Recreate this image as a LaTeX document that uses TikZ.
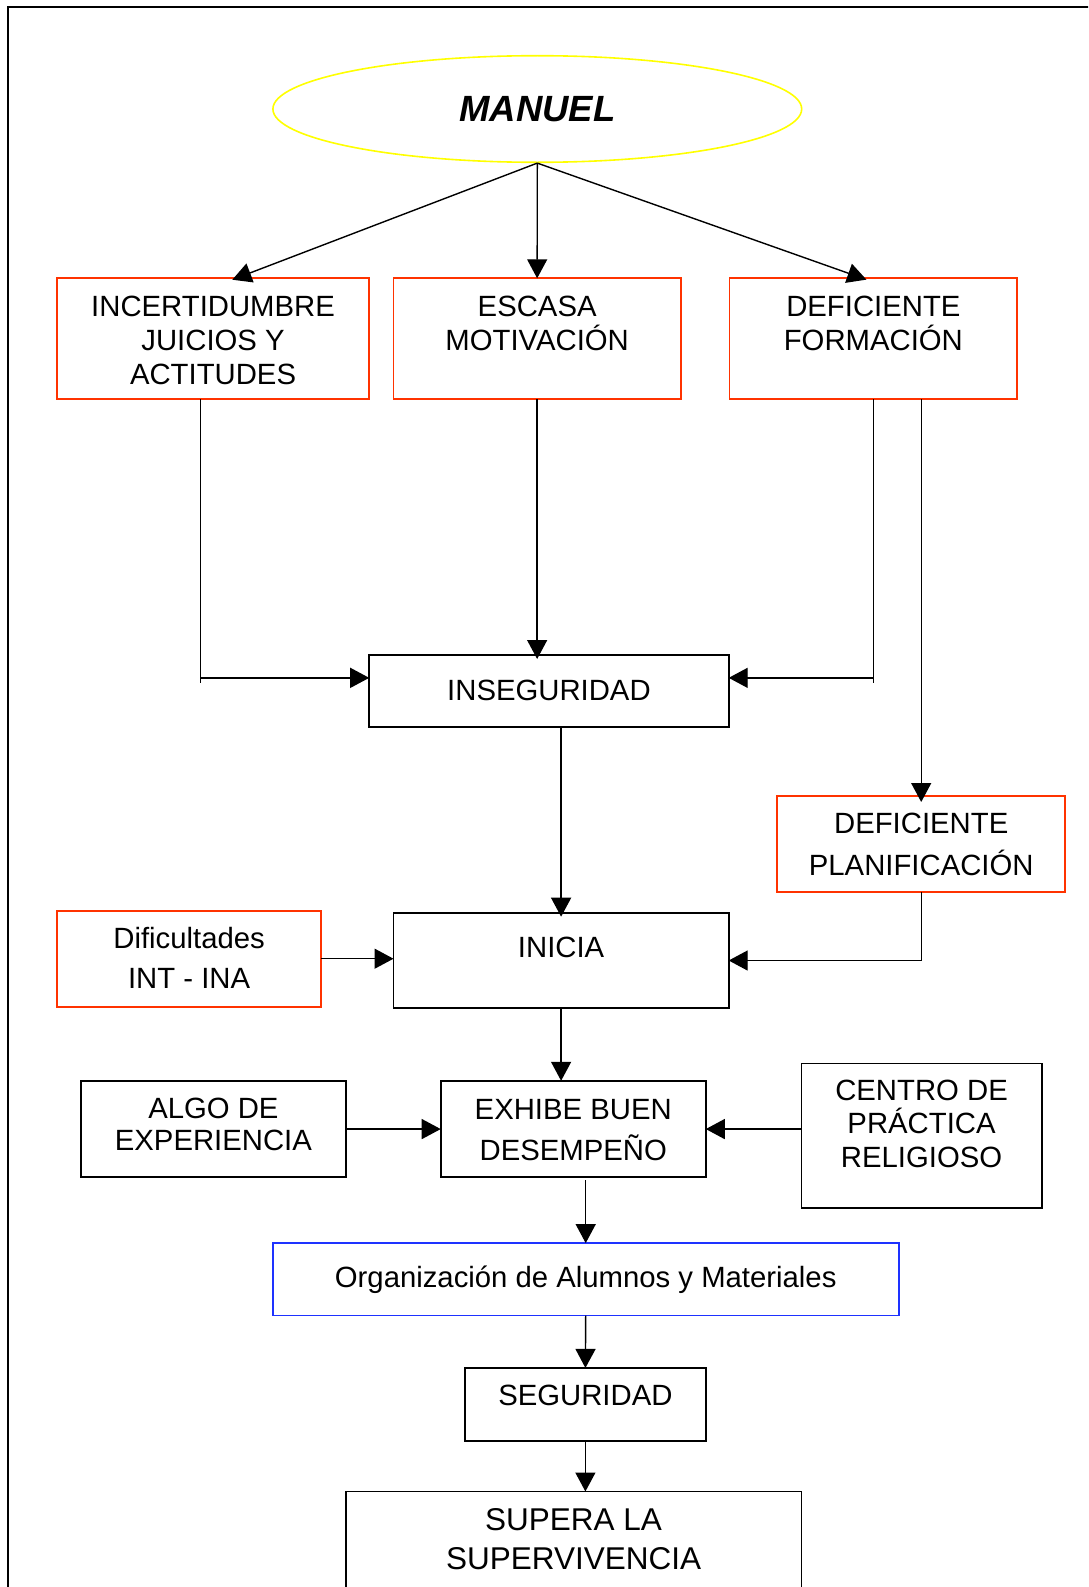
\documentclass[tikz,border=0pt]{standalone}
\usepackage{fontspec}
\setmainfont{Liberation Sans}
\usetikzlibrary{arrows.meta,shapes.geometric,calc}
\definecolor{bred}{RGB}{255,51,0}
\definecolor{bblue}{RGB}{30,50,255}
\definecolor{ylw}{RGB}{255,255,0}
% width, height, first baseline offset, line spacing, text
\newcommand\boxtxt[5]{\parbox[t][#2pt][t]{#1pt}{\centering\baselineskip=#4pt\relax\lineskiplimit=-100pt\relax\rule{0pt}{#3pt}#5\par}}
\tikzset{
  basebox/.style={inner sep=0pt, outer sep=0pt, anchor=north west, line width=1.8pt,
    font=\fontsize{29.3}{34}\selectfont},
  rbox/.style={basebox, draw=bred},
  kbox/.style={basebox, draw=black},
  bbox/.style={basebox, draw=bblue},
  ln/.style={line width=1.4pt},
  arr/.style={line width=1.4pt, -{Triangle[length=19pt,width=20pt]}},
  into/.style={shorten >=-4pt},
}
\begin{document}
\begin{tikzpicture}[x=1pt,y=-1pt]
\useasboundingbox (0,0) rectangle (1088,1587);
\clip (0,0) rectangle (1088,1587);
\fill[white] (0,0) rectangle (1088,1587);
% outer frame
\draw[line width=2.2pt] (8.3,7.3) rectangle (1110,1610);

% nodes
\node[ellipse, draw=ylw, line width=1.6pt, minimum width=528.8pt, minimum height=106.6pt,
  inner sep=0pt, font=\fontsize{36.5}{40}\selectfont\bfseries\itshape] (m) at (537.3,109) {MANUEL};

\node[rbox] (inc) at (56.9,278.3) {\boxtxt{312.3}{120.7}{37.7}{34}{INCERTIDUMBRE\\JUICIOS Y\\ACTITUDES}};
\node[rbox] (esc) at (393.5,278.3) {\boxtxt{287.3}{120.7}{37.7}{34}{ESCASA\\MOTIVACIÓN}};
\node[rbox] (def) at (729.4,278.3) {\boxtxt{287.9}{120.7}{37.7}{34}{DEFICIENTE\\FORMACIÓN}};

\node[kbox] (inseg) at (369.2,655) {\boxtxt{359.5}{71.7}{45}{34}{INSEGURIDAD}};
\node[rbox] (defplan) at (777.2,796) {\boxtxt{288}{96.3}{37.3}{41.7}{DEFICIENTE\\PLANIFICACIÓN}};
\node[kbox] (inicia) at (393.5,912.7) {\boxtxt{335.2}{95.6}{45}{34}{INICIA}};
\node[rbox] (dif) at (56.9,910.7) {\boxtxt{264.4}{96}{37.6}{40}{Dificultades\\INT - INA}};

\node[kbox] (algo) at (81.2,1080.8) {\boxtxt{264.4}{96.5}{37.9}{31.5}{ALGO DE\\EXPERIENCIA}};
\node[kbox] (exhibe) at (440.7,1080.8) {\boxtxt{265.1}{96.5}{38.7}{40.8}{EXHIBE BUEN\\DESEMPEÑO}};
\node[kbox] (centro) at (801.5,1063.4) {\boxtxt{240.1}{144.6}{36.9}{33.6}{CENTRO DE\\PRÁCTICA\\RELIGIOSO}};

\node[bbox] (org) at (272.7,1243.1) {\boxtxt{626}{72.4}{44.5}{34}{Organización de Alumnos y Materiales}};
\node[kbox] (seg) at (465,1367.9) {\boxtxt{240.8}{72.7}{37.3}{34}{SEGURIDAD}};
\node[kbox, font=\fontsize{31.5}{38}\selectfont] (sup) at (345.6,1491.5) {\boxtxt{455.9}{120}{39.2}{38.6}{SUPERA LA\\SUPERVIVENCIA}};

% connectors
\draw[arr, into] (m.south) -- ([xshift=23pt]inc.north);
\draw[arr] (m.south) -- (esc.north);
\draw[arr, into] (m.south) -- ([xshift=-10.7pt]def.north);

\coordinate (t1) at (200.6,683.3);
\coordinate (inL) at ([yshift=13pt]inseg.west);
\draw[ln] (inc.south -| t1) -- (t1);
\draw[arr] (t1 |- inL) -- (inL);

\coordinate (t2) at (873.35,683.3);
\coordinate (inR) at ([yshift=13pt]inseg.east);
\draw[ln] (def.south -| t2) -- (t2);
\draw[arr] (t2 |- inR) -- (inR);

\draw[arr, into] (esc.south) -- (esc.south |- inseg.north);
\draw[arr, shorten >=-6pt] (def.south -| defplan.north) -- (defplan.north);
\draw[arr, into] (inseg.south -| inicia.north) -- (inicia.north);
\draw[arr] (defplan.south) |- (inicia.east);
\draw[arr] (dif.east) -- (dif.east -| inicia.west);
\draw[arr] (inicia.south) -- (inicia.south |- exhibe.north);
\draw[arr] (algo.east) -- (algo.east -| exhibe.west);
\draw[arr] (exhibe.east -| centro.west) -- (exhibe.east);
\coordinate (eo) at ($(exhibe.south -| org.north)+(0,3)$);
\draw[arr] (eo) -- (org.north);
\draw[arr] (org.south) -- (seg.north);
\draw[arr] (seg.south) -- (seg.south |- sup.north);
\end{tikzpicture}
\end{document}
